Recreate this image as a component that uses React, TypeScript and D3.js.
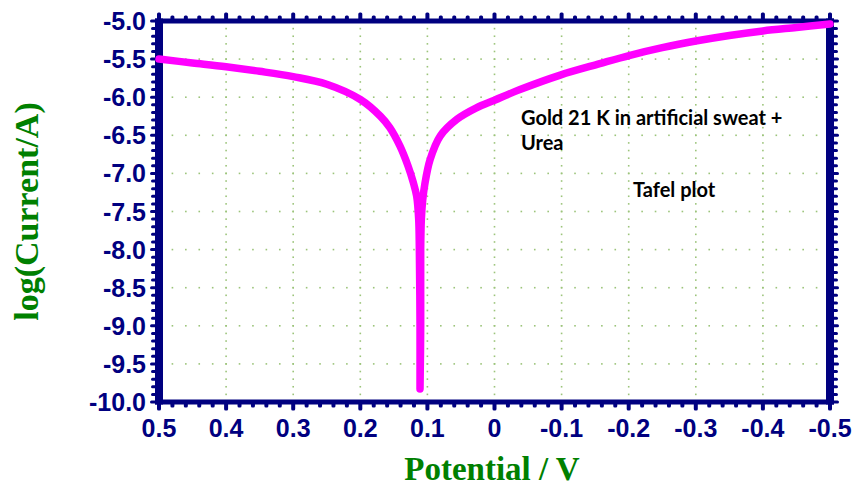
import React from "react";
import * as d3 from "d3";

// Tafel polarisation curve: potential (V) vs log(current / A)
const potential = [
  0.5, 0.45, 0.4, 0.35, 0.3, 0.25, 0.2, 0.17, 0.156, 0.141, 0.129, 0.121, 0.116,
  0.113, 0.112, 0.111, 0.111,
  0.11, 0.11, 0.109, 0.107, 0.104, 0.096, 0.081, 0.056, 0.027, 0.0, -0.038,
  -0.098, -0.157, -0.202, -0.25, -0.302, -0.35, -0.4, -0.45, -0.5,
];
const logCurrent = [
  -5.5, -5.55, -5.6, -5.66, -5.73, -5.83, -6.03, -6.25, -6.4, -6.64, -6.9, -7.12, -7.3,
  -7.6, -8.0, -9.0, -9.83,
  -9.0, -8.0, -7.6, -7.35, -7.15, -6.82, -6.51, -6.29, -6.14, -6.04, -5.9,
  -5.71, -5.56, -5.45, -5.35, -5.26, -5.19, -5.13, -5.085, -5.04,
];

const xTickValues = [0.5, 0.4, 0.3, 0.2, 0.1, 0, -0.1, -0.2, -0.3, -0.4, -0.5];
const yTickValues = [-5, -5.5, -6, -6.5, -7, -7.5, -8, -8.5, -9, -9.5, -10];
const xMinorStep = 0.02;
const yMinorStep = 0.1;

const xTitle = "Potential / V";
const yTitle = "log(Current/A)";
const noteLines = ["Gold 21 K in artificial sweat +", "Urea"];
const plotTag = "Tafel plot";

const W = 855;
const H = 488;
const NAVY = "#000080";
const GREEN = "#008000";
const GRID = "#9cc47a";

export default function App() {
  const x = d3.scaleLinear().domain([0.5, -0.5]).range([159, 830]);
  const y = d3.scaleLinear().domain([-5, -10]).range([21, 402]);

  const [x0, x1] = x.range();
  const [y0, y1] = y.range();

  const xMinor = d3.range(0, 51).map((i) => +(0.5 - i * xMinorStep).toFixed(3));
  const yMinor = d3.range(0, 51).map((i) => +(-5 - i * yMinorStep).toFixed(3));
  const isMajorX = (v: number) => xTickValues.some((t) => Math.abs(t - v) < 1e-6);
  const isMajorY = (v: number) => yTickValues.some((t) => Math.abs(t - v) < 1e-6);

  const line = d3
    .line<number>()
    .x((_, i) => x(potential[i]))
    .y((_, i) => y(logCurrent[i]))
    .curve(d3.curveCatmullRom.alpha(0.5));
  const pathD = line(potential.map((_, i) => i)) || "";

  const fmtX = (v: number) => (v === 0 ? "0" : d3.format(".1f")(v).replace("−", "-"));
  const fmtY = (v: number) => d3.format(".1f")(v).replace("−", "-");

  // dotted grid: dots at minor-tick spacing along each major line
  const gridDots: React.ReactNode[] = [];
  xTickValues.slice(1, -1).forEach((xv) => {
    yMinor.slice(1, -1).forEach((yv) => {
      gridDots.push(
        <rect key={`v${xv}_${yv}`} x={x(xv) - 0.8} y={y(yv) - 0.8} width={1.6} height={1.6} fill={GRID} />
      );
    });
  });
  yTickValues.slice(1, -1).forEach((yv) => {
    xMinor.slice(1, -1).forEach((xv) => {
      gridDots.push(
        <rect key={`h${yv}_${xv}`} x={x(xv) - 0.8} y={y(yv) - 0.8} width={1.6} height={1.6} fill={GRID} />
      );
    });
  });

  const barW = 8;
  const barH = 5;

  return (
    <svg
      width={W}
      height={H}
      viewBox={`0 0 ${W} ${H}`}
      style={{ position: "absolute", left: 0, top: 0, background: "#fff" }}
    >
      <rect x={0} y={0} width={W} height={H} fill="#fff" />
      <g>{gridDots}</g>

      {/* frame */}
      <g fill={NAVY}>
        <rect x={x0 - barW / 2} y={y0 - barH / 2} width={x1 - x0 + barW} height={barH} />
        <rect x={x0 - barW / 2} y={y1 - barH / 2} width={x1 - x0 + barW} height={barH} />
        <rect x={x0 - barW / 2} y={y0 - barH / 2} width={barW} height={y1 - y0 + barH} />
        <rect x={x1 - barW / 2} y={y0 - barH / 2} width={barW} height={y1 - y0 + barH} />

        {xMinor.map((v) => {
          const len = isMajorX(v) ? 6 : 3;
          return (
            <g key={`xt${v}`}>
              <rect x={x(v) - 2} y={y0 - barH / 2 - len} width={4} height={len + 2} rx={1.5} />
              <rect x={x(v) - 2} y={y1 + barH / 2 - 2} width={4} height={len + 2} rx={1.5} />
            </g>
          );
        })}
        {yMinor.map((v) => {
          const len = isMajorY(v) ? 5 : 4;
          return (
            <g key={`yt${v}`}>
              <rect x={x0 - barW / 2 - len} y={y(v) - 1.5} width={len + 2} height={3} rx={1.5} />
              <rect x={x1 + barW / 2 - 2} y={y(v) - 1.5} width={len + 2} height={3} rx={1.5} />
            </g>
          );
        })}
      </g>

      {/* tick labels */}
      <g
        fill={NAVY}
        fontFamily="'Liberation Sans', Arial, sans-serif"
        fontWeight="bold"
        fontSize={25}
      >
        {xTickValues.map((v) => (
          <text key={`xl${v}`} x={x(v)} y={437} textAnchor="middle">
            {fmtX(v)}
          </text>
        ))}
        {yTickValues.map((v) => (
          <text key={`yl${v}`} x={146} y={y(v) + 9} textAnchor="end">
            {fmtY(v)}
          </text>
        ))}
      </g>

      {/* axis titles */}
      <g fill={GREEN} fontFamily="'Liberation Serif', 'Times New Roman', serif" fontWeight="bold" fontSize={33}>
        <text x={492} y={480} textAnchor="middle">
          {xTitle}
        </text>
        <text transform={`translate(38, ${(y0 + y1) / 2}) rotate(-90)`} textAnchor="middle" fontSize={34}>
          {yTitle}
        </text>
      </g>

      {/* annotations */}
      <g fill="#000" fontFamily="Lato, 'Open Sans', sans-serif" fontWeight="bold" fontSize={20}>
        <text x={521} y={125}>{noteLines[0]}</text>
        <text x={521} y={150}>{noteLines[1]}</text>
        <text x={633} y={197}>{plotTag}</text>
      </g>

      {/* curve */}
      <path
        d={pathD}
        fill="none"
        stroke="#ff00ff"
        strokeWidth={7.5}
        strokeLinecap="round"
        strokeLinejoin="round"
      />
    </svg>
  );
}
